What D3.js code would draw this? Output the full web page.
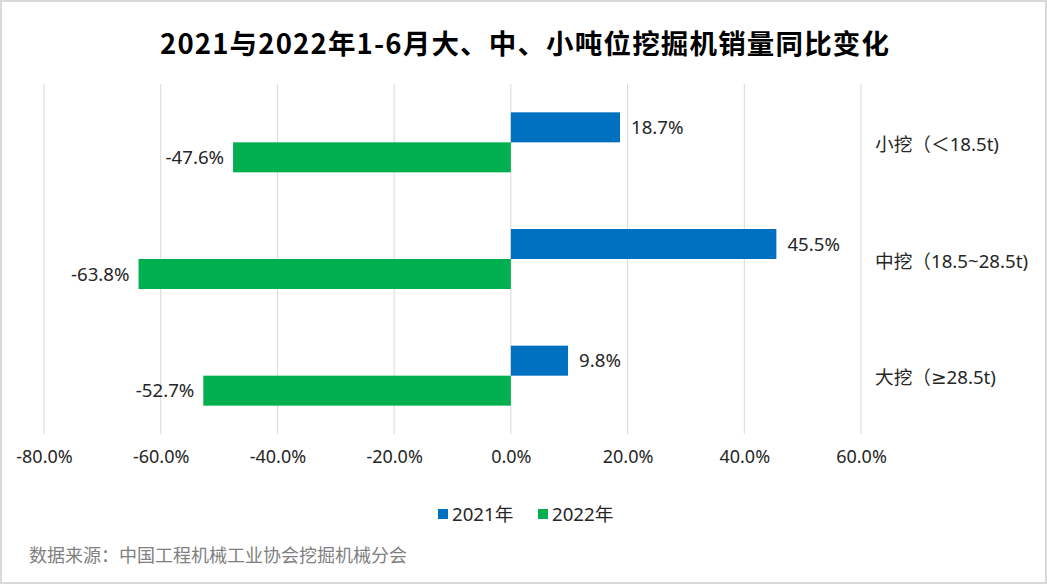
<!DOCTYPE html>
<html>
<head>
<meta charset="utf-8">
<style>
  body { margin: 0; background: #fff; }
  text { font-family: "Noto Sans", "Noto Sans CJK SC", sans-serif; }
</style>
</head>
<body>
<script src="https://cdn.jsdelivr.net/npm/d3@7/dist/d3.min.js"></script>
<script>
  const width = 1047
  const height = 584

  const categories = ["小挖（＜18.5t)", "中挖（18.5~28.5t)", "大挖（≥28.5t)"]
  const seriesNames = ["2021年", "2022年"]
  const values2021 = [0.187, 0.455, 0.098]
  const values2022 = [-0.476, -0.638, -0.527]
  const xTicks = [-0.8, -0.6, -0.4, -0.2, 0, 0.2, 0.4, 0.6]

  const colors = ["#0070C0", "#00B050"]
  const gridColor = "#d9d9d9"
  const textColor = "#262626"
  const labelSize = 18.67

  // rows for the bars
  const rows = []
  categories.forEach((c, i) => {
    rows.push({ cat: c, series: seriesNames[0], value: values2021[i] })
    rows.push({ cat: c, series: seriesNames[1], value: values2022[i] })
  })

  const x = d3.scaleLinear()
    .domain([-0.8, 0.6])
    .range([44, 861])

  const y = d3.scaleBand()
    .domain(categories)
    .range([84, 434])

  const barH = 30
  const ySub = d3.scaleBand()
    .domain(seriesNames)
    .range([y.bandwidth() / 2 - barH, y.bandwidth() / 2 + barH])

  const color = d3.scaleOrdinal().domain(seriesNames).range(colors)

  // plain hyphen for negatives, like the original
  const locale = d3.formatLocale({ decimal: ".", thousands: ",", grouping: [3], currency: ["", ""], minus: "-" })
  const pct = locale.format(".1%")

  const svg = d3.select("body")
    .append("svg")
    .attr("width", width)
    .attr("height", height)

  svg.append("rect")
    .attr("x", 1)
    .attr("y", 1)
    .attr("width", width - 2)
    .attr("height", height - 2)
    .attr("fill", "#fff")
    .attr("stroke", "#d9d9d9")
    .attr("stroke-width", 2)

  // title
  svg.append("text")
    .attr("x", 160)
    .attr("y", 54)
    .attr("font-size", 27.5)
    .attr("font-weight", "bold")
    .attr("fill", "#000")
    .attr("textLength", 729)
    .attr("lengthAdjust", "spacing")
    .style("font-family", '"Noto Sans CJK SC", sans-serif')
    .text("2021与2022年1-6月大、中、小吨位挖掘机销量同比变化")

  // gridlines
  svg.append("g")
    .selectAll("line")
    .data(xTicks)
    .join("line")
    .attr("x1", d => x(d))
    .attr("x2", d => x(d))
    .attr("y1", y.range()[0])
    .attr("y2", y.range()[1])
    .attr("stroke", gridColor)
    .attr("stroke-width", 1)

  // x axis labels
  const xAxis = d3.axisBottom(x)
    .tickValues(xTicks)
    .tickFormat(pct)
    .tickSize(0)
    .tickPadding(0)

  svg.append("g")
    .attr("transform", "translate(0, 450)")
    .call(xAxis)
    .call(g => g.select(".domain").remove())
    .call(g => g.selectAll("text")
      .attr("font-size", 18)
      .attr("fill", textColor)
      .style("font-family", '"Noto Sans", "Noto Sans CJK SC", sans-serif'))

  // bars
  svg.append("g")
    .selectAll("rect")
    .data(rows)
    .join("rect")
    .attr("x", d => Math.min(x(0), x(d.value)))
    .attr("y", d => y(d.cat) + ySub(d.series))
    .attr("width", d => Math.abs(x(d.value) - x(0)))
    .attr("height", ySub.bandwidth())
    .attr("fill", d => color(d.series))

  // value labels
  svg.append("g")
    .selectAll("text")
    .data(rows)
    .join("text")
    .attr("x", d => d.value >= 0 ? x(d.value) + 11 : x(d.value) - 9)
    .attr("y", d => y(d.cat) + ySub(d.series) + ySub.bandwidth() / 2)
    .attr("dy", "0.35em")
    .attr("text-anchor", d => d.value >= 0 ? "start" : "end")
    .attr("font-size", labelSize)
    .attr("fill", textColor)
    .text(d => pct(d.value))

  // category labels on the right (≥ drawn with DejaVu so it keeps a flat bar)
  svg.append("g")
    .selectAll("text")
    .data(categories)
    .join("text")
    .attr("x", 875)
    .attr("y", d => y(d) + y.bandwidth() / 2 + 2)
    .attr("dy", "0.35em")
    .attr("font-size", labelSize)
    .attr("fill", textColor)
    .each(function(d) {
      const t = d3.select(this)
      d.split(/(≥)/).filter(s => s).forEach(part => {
        const span = t.append("tspan").text(part)
        if (part === "≥") span.style("font-family", '"DejaVu Sans", sans-serif')
      })
    })

  // legend
  const legend = svg.append("g")
    .attr("transform", "translate(438, 514)")

  const item = legend.selectAll("g")
    .data(seriesNames)
    .join("g")
    .attr("transform", (d, i) => `translate(${i * 100}, 0)`)

  item.append("rect")
    .attr("x", 0)
    .attr("y", -5)
    .attr("width", 10)
    .attr("height", 10)
    .attr("fill", d => color(d))

  item.append("text")
    .attr("x", 14)
    .attr("y", 0)
    .attr("dy", "0.35em")
    .attr("font-size", labelSize)
    .attr("fill", textColor)
    .text(d => d)

  // source note
  svg.append("text")
    .attr("x", 29)
    .attr("y", 556)
    .attr("dy", "0.35em")
    .attr("font-size", 18)
    .attr("fill", "#808080")
    .text("数据来源：中国工程机械工业协会挖掘机械分会")
</script>
</body>
</html>
